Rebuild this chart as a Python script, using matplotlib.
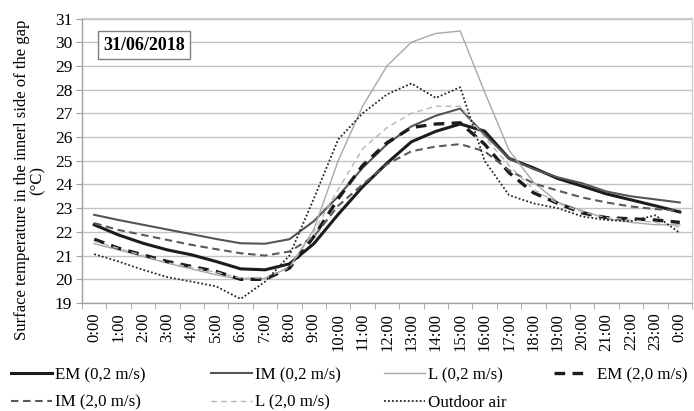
import matplotlib
matplotlib.use("Agg")
import matplotlib.pyplot as plt
import numpy as np

plt.rcParams['font.family'] = ['Liberation Serif', 'DejaVu Serif']

hours = ["0:00", "1:00", "2:00", "3:00", "4:00", "5:00", "6:00", "7:00", "8:00",
         "9:00", "10:00", "11:00", "12:00", "13:00", "14:00", "15:00", "16:00",
         "17:00", "18:00", "19:00", "20:00", "21:00", "22:00", "23:00", "0:00"]

em_02 = [22.3, 21.87, 21.52, 21.24, 21.03, 20.75, 20.44, 20.4, 20.65, 21.5, 22.74, 23.9,
         24.9, 25.8, 26.24, 26.55, 26.25, 25.1, 24.7, 24.25, 23.93, 23.6, 23.35, 23.1, 22.84]
im_02 = [22.72, 22.5, 22.3, 22.1, 21.9, 21.7, 21.52, 21.5, 21.69, 22.45, 23.5, 24.7,
         25.7, 26.45, 26.9, 27.2, 26.1, 25.1, 24.65, 24.3, 24.05, 23.7, 23.5, 23.37, 23.24]
l_02 = [21.5, 21.24, 20.96, 20.68, 20.43, 20.19, 20.0, 20.04, 20.5, 22.1, 25.0, 27.3,
        29.0, 30.0, 30.37, 30.47, 27.9, 25.45, 24.1, 23.25, 22.9, 22.55, 22.4, 22.3, 22.3]
em_20 = [21.69, 21.31, 21.03, 20.75, 20.54, 20.33, 20.0, 20.0, 20.47, 21.8, 23.4, 24.8,
         25.76, 26.4, 26.55, 26.6, 25.7, 24.5, 23.65, 23.2, 22.8, 22.6, 22.55, 22.5, 22.4]
im_20 = [22.37, 22.08, 21.87, 21.66, 21.45, 21.27, 21.1, 21.0, 21.17, 21.8, 23.1, 24.0,
         24.85, 25.4, 25.6, 25.7, 25.4, 24.6, 24.05, 23.74, 23.45, 23.24, 23.07, 22.96, 22.9]
l_20 = [21.6, 21.3, 21.0, 20.7, 20.5, 20.3, 20.05, 20.05, 20.5, 22.0, 23.8, 25.5,
        26.4, 27.0, 27.3, 27.3, 26.0, 24.8, 23.8, 23.2, 22.85, 22.6, 22.5, 22.4, 22.2]
outdoor = [21.06, 20.75, 20.4, 20.09, 19.9, 19.7, 19.17, 19.9, 21.0, 23.4, 25.9, 27.0,
           27.8, 28.26, 27.65, 28.1, 25.0, 23.55, 23.2, 23.0, 22.65, 22.5, 22.45, 22.7, 21.95]

labels = ["EM (0,2 m/s)", "IM (0,2 m/s)", "L (0,2 m/s)", "EM (2,0 m/s)",
          "IM (2,0 m/s)", "L (2,0 m/s)", "Outdoor air"]
date_label = "31/06/2018"
y_label = "Surface temperature in the innerl side of the gap\n(°C)"

W, H = 694, 411
fig = plt.figure(figsize=(W / 100, H / 100), dpi=100)
ax = fig.add_axes([82 / W, 1 - 303 / H, 610 / W, 284.5 / H])

x = np.arange(len(hours))
h_em02, = ax.plot(x, em_02, color="#1c1c1c", lw=2.2, solid_joinstyle="round")
h_im02, = ax.plot(x, im_02, color="#555555", lw=1.5)
h_l02, = ax.plot(x, l_02, color="#a8a8a8", lw=1.0)
h_em20, = ax.plot(x, em_20, color="#1c1c1c", lw=2.4, ls=(0, (3.2, 2.2)))
h_im20, = ax.plot(x, im_20, color="#5a5a5a", lw=1.5, ls=(0, (3.6, 2.2)))
h_l20, = ax.plot(x, l_20, color="#b5b5b5", lw=1.0, ls=(0, (4, 3)))
h_out, = ax.plot(x, outdoor, color="#262626", lw=1.3, ls=(0, (1, 1.2)))

ax.set_xlim(-0.5, len(hours) - 0.5)
ax.set_ylim(19, 31)
ax.set_yticks(np.arange(19, 32, 1))
ax.set_xticks(x)
ax.set_xticklabels(hours, rotation=90, fontsize=12)
ax.set_xticks(np.arange(-0.5, len(hours), 1), minor=True)
ax.tick_params(axis='x', which='major', length=0, pad=7)
ax.tick_params(axis='x', which='minor', length=4, color="#a0a0a0", direction='out')
ax.tick_params(axis='y', length=4, color="#a0a0a0", labelsize=12.5, pad=3)

ax.yaxis.grid(True, color="#c2c2c2", lw=1.0)
ax.set_axisbelow(True)
for s in ["left", "bottom"]:
    ax.spines[s].set_color("#a0a0a0")
    ax.spines[s].set_linewidth(1.0)
for s in ["right", "top"]:
    ax.spines[s].set_color("#d0d0d0")
    ax.spines[s].set_linewidth(1.0)

ax.text((144 - 82) / 610, (303 - 45) / 284.5, date_label, transform=ax.transAxes,
        ha="center", va="center", fontsize=13, fontweight="bold",
        bbox=dict(boxstyle="square,pad=0.28", fc="white", ec="#808080", lw=1.0))

fig.text(30 / W, 1 - 180 / H, y_label, rotation=90, ha="center", va="center",
         multialignment="center", fontsize=12, linespacing=1.0)

# legend: one small legend per column, placed like the reference
columns = [([h_em02, h_im20], [labels[0], labels[4]], 11, 2.4, 0.2),
           ([h_im02, h_l20], [labels[1], labels[5]], 211, 2.4, 0.2),
           ([h_l02, h_out], [labels[2], labels[6]], 384, 2.4, 0.2),
           ([h_em20], [labels[3]], 554, 1.77, 0.75)]
for hs, ls_, x0, hl, tp in columns:
    fig.legend(hs, ls_, ncol=1, loc="upper left",
               bbox_to_anchor=(x0 / W, 1 - 367 / H), frameon=False, fontsize=12.2,
               handlelength=hl, handletextpad=tp,
               labelspacing=0.68, borderaxespad=0, borderpad=0)

fig.savefig("out.png", dpi=100)
